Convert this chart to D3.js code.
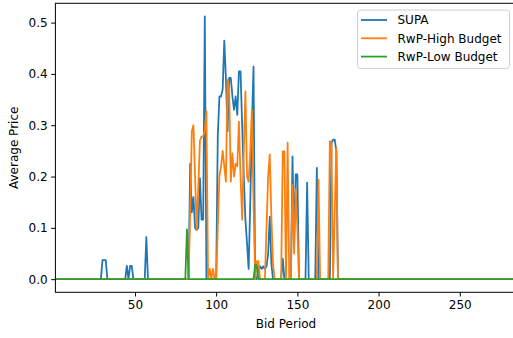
<!DOCTYPE html>
<html>
<head>
<meta charset="utf-8">
<script src="https://cdn.jsdelivr.net/npm/d3@7"></script>
<style>
  body { margin: 0; background: #fff; }
  svg { display: block; font-family: "DejaVu Sans", sans-serif; }
</style>
</head>
<body>
<div id="chart"></div>
<script>
// [bid period, average price] - flat zero stretches kept as their end points
const supaPoints = [
  [1, 0], [29, 0], [30, 0.037], [32, 0.037], [33, 0],
  [44, 0], [45, 0.026], [46, 0], [47, 0.026], [48, 0.026], [49, 0],
  [56, 0], [57, 0.082], [58, 0],
  [83, 0], [84, 0.225], [85, 0.13], [86, 0.16], [87, 0.1], [88, 0.096], [89, 0.1],
  [90, 0.197], [91, 0.116], [92, 0.116], [93, 0.512], [94, 0],
  [100, 0], [101, 0.28], [102, 0.356], [103, 0.356], [104, 0.37], [105, 0.465],
  [106, 0.392], [107, 0.288], [108, 0.392], [109, 0.392], [110, 0.356], [111, 0.33],
  [112, 0.356], [113, 0.32], [114, 0.405], [115, 0.405], [116, 0.3], [117, 0.2],
  [118, 0.116], [119, 0.07], [120, 0.02], [121, 0.15], [122, 0.3], [123, 0.414], [124, 0],
  [125, 0], [126, 0.02], [127, 0.025], [128, 0.02], [129, 0.025], [130, 0.02],
  [131, 0.025], [132, 0.05], [133, 0.122], [134, 0.03], [135, 0],
  [140, 0], [141, 0.04], [142, 0],
  [146, 0], [147, 0.239], [148, 0.07], [149, 0.204], [150, 0.204], [151, 0],
  [155, 0], [156, 0.188], [157, 0],
  [161, 0], [162, 0.217], [163, 0],
  [170, 0], [171, 0.265], [172, 0.272], [173, 0.272], [174, 0.25], [175, 0],
  [285, 0]
];

const highPoints = [
  [1, 0], [83, 0], [84, 0.13], [85, 0.288], [86, 0.3], [87, 0.2], [88, 0.096],
  [89, 0.18], [90, 0.27], [91, 0.278], [92, 0.278], [93, 0.29], [94, 0.327], [95, 0],
  [96, 0.02], [97, 0], [98, 0.02], [99, 0],
  [100, 0], [101, 0.1], [102, 0.2], [103, 0.22], [104, 0.25], [105, 0.22], [106, 0.19],
  [107, 0.389], [108, 0.37], [109, 0.19], [110, 0.245], [111, 0.2], [112, 0.225],
  [113, 0.22], [114, 0.307], [115, 0.2], [116, 0.116], [117, 0.25], [118, 0.366],
  [119, 0.2], [120, 0.19], [121, 0.25], [122, 0.33], [123, 0.15], [124, 0],
  [125, 0.035], [126, 0.035], [127, 0],
  [130, 0], [131, 0.1], [132, 0.2], [133, 0.243], [134, 0.12], [135, 0.03], [136, 0],
  [140, 0], [141, 0.249], [142, 0.249], [143, 0], [144, 0.266], [145, 0],
  [146, 0], [147, 0.184], [148, 0.05], [149, 0.175], [150, 0.1], [151, 0],
  [162, 0], [163, 0.194], [164, 0],
  [169, 0], [170, 0.269], [171, 0.265], [172, 0], [174, 0.256], [175, 0],
  [285, 0]
];

const lowPoints = [
  [1, 0], [81, 0], [82, 0.097], [83, 0],
  [123, 0], [124, 0.028], [125, 0.028], [126, 0],
  [285, 0]
];

const seriesNames = ['SUPA', 'RwP-High Budget', 'RwP-Low Budget'];
const seriesColors = ['#1f77b4', '#ff7f0e', '#2ca02c'];
const xTicks = [50, 100, 150, 200, 250];
const yTicks = [0, 0.1, 0.2, 0.3, 0.4, 0.5];

const width = 513, height = 338;
const mLeft = 55.4, mRight = 516.6, mTop = 3.3, mBottom = 292.3;

const svg = d3.select('#chart').append('svg')
  .attr('width', width)
  .attr('height', height);

const x = d3.scaleLinear().domain([1, 285]).range([mLeft, mRight]);
const y = d3.scaleLinear().domain([-0.0256, 0.5376]).range([mBottom, mTop]);

svg.append('defs').append('clipPath').attr('id', 'plot')
  .append('rect')
  .attr('x', mLeft).attr('y', mTop)
  .attr('width', mRight - mLeft).attr('height', mBottom - mTop);

const line = d3.line()
  .x(d => x(d[0]))
  .y(d => y(d[1]));

const g = svg.append('g').attr('clip-path', 'url(#plot)');
[supaPoints, highPoints, lowPoints].forEach((pts, i) => {
  g.append('path')
    .datum(pts)
    .attr('d', line)
    .attr('fill', 'none')
    .attr('stroke', seriesColors[i])
    .attr('stroke-width', 1.8)
    .attr('stroke-linejoin', 'round')
    .attr('stroke-linecap', 'square');
});

// axes
const xAxis = d3.axisBottom(x).tickValues(xTicks).tickSize(4.2).tickPadding(3.5);
const yAxis = d3.axisLeft(y).tickValues(yTicks).tickFormat(d3.format('.1f')).tickSize(4.2).tickPadding(3.5);

const gx = svg.append('g').attr('transform', 'translate(0,' + mBottom + ')').call(xAxis);
const gy = svg.append('g').attr('transform', 'translate(' + mLeft + ',0)').call(yAxis);
[gx, gy].forEach(a => {
  a.select('.domain').remove();
  a.selectAll('text').attr('font-size', 12).attr('fill', '#000').attr('font-family', 'DejaVu Sans');
  a.selectAll('line').attr('stroke', '#000').attr('stroke-width', 1);
});

// spines
svg.append('rect')
  .attr('x', mLeft).attr('y', mTop)
  .attr('width', mRight - mLeft).attr('height', mBottom - mTop)
  .attr('fill', 'none')
  .attr('stroke', '#000')
  .attr('stroke-width', 1);

// axis labels
svg.append('text')
  .attr('x', (mLeft + mRight) / 2).attr('y', 327.5)
  .attr('text-anchor', 'middle')
  .attr('font-size', 12)
  .text('Bid Period');

svg.append('text')
  .attr('transform', 'translate(17.5,' + ((mTop + mBottom) / 2) + ') rotate(-90)')
  .attr('text-anchor', 'middle')
  .attr('font-size', 12)
  .text('Average Price');

// legend
const lg = svg.append('g');
lg.append('rect')
  .attr('x', 357.5).attr('y', 10)
  .attr('width', 152).attr('height', 58.5)
  .attr('rx', 3)
  .attr('fill', '#fff').attr('fill-opacity', 0.8)
  .attr('stroke', '#d0d0d0').attr('stroke-width', 1);

seriesNames.forEach((name, i) => {
  const ly = 20 + i * 18.3;
  lg.append('line')
    .attr('x1', 361).attr('x2', 387)
    .attr('y1', ly).attr('y2', ly)
    .attr('stroke', seriesColors[i])
    .attr('stroke-width', 1.8);
  lg.append('text')
    .attr('x', 397.5).attr('y', ly)
    .attr('dy', '0.36em')
    .attr('font-size', 12)
    .text(name);
});
</script>
</body>
</html>
